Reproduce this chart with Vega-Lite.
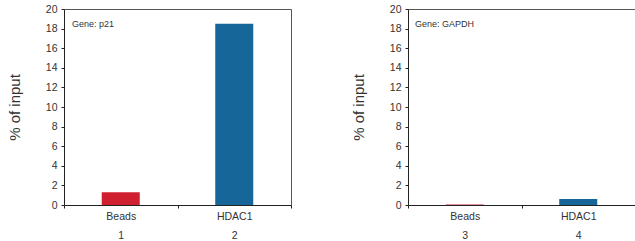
{
  "$schema": "https://vega.github.io/schema/vega-lite/v6.json",
  "padding": {"left": 6, "top": 3, "right": 2, "bottom": 2},
  "background": "white",
  "datasets": {
    "p21": [
      {"lane": "1", "sample": "Beads", "pct": 1.3, "gene": "Gene: p21"},
      {"lane": "2", "sample": "HDAC1", "pct": 18.5, "gene": "Gene: p21"}
    ],
    "gapdh": [
      {"lane": "3", "sample": "Beads", "pct": 0.05, "gene": "Gene: GAPDH"},
      {"lane": "4", "sample": "HDAC1", "pct": 0.6, "gene": "Gene: GAPDH"}
    ]
  },
  "spacing": 58,
  "resolve": {"scale": {"x": "independent", "y": "independent"}},
  "hconcat": [
    {
      "width": 227,
      "height": 196,
      "data": {"name": "p21"},
      "encoding": {
        "x": {"field": "lane", "type": "nominal", "sort": null,
              "scale": {"paddingInner": 0, "paddingOuter": 0},
              "axis": {"title": null, "labelExpr": "indexof(['1','2','3','4'], datum.value) < 0 ? '' : [datum.value == '1' || datum.value == '3' ? 'Beads' : 'HDAC1', datum.value]"}}
      },
      "layer": [
        {
          "mark": {"type": "bar", "width": {"band": 0.335}},
          "encoding": {
            "y": {"field": "pct", "type": "quantitative", "scale": {"domain": [0, 20]},
                  "axis": {"title": "% of input", "values": [0, 2, 4, 6, 8, 10, 12, 14, 16, 18, 20]}},
            "color": {"field": "sample", "type": "nominal", "legend": null,
                      "scale": {"domain": ["Beads", "HDAC1"], "range": ["#d0202f", "#17669a"]}}
          }
        },
        {
          "transform": [{"filter": "datum.lane == '1'"}],
          "mark": {"type": "text", "align": "left", "baseline": "middle", "dx": 8, "fontSize": 9, "color": "#333"},
          "encoding": {
            "x": {"field": "lane", "type": "nominal", "bandPosition": 0},
            "y": {"datum": 18.5, "type": "quantitative", "axis": {"title": "% of input", "values": [0, 2, 4, 6, 8, 10, 12, 14, 16, 18, 20]}},
            "text": {"field": "gene"}
          }
        }
      ]
    },
    {
      "width": 227,
      "height": 196,
      "data": {"name": "gapdh"},
      "encoding": {
        "x": {"field": "lane", "type": "nominal", "sort": null,
              "scale": {"paddingInner": 0, "paddingOuter": 0},
              "axis": {"title": null, "labelExpr": "indexof(['1','2','3','4'], datum.value) < 0 ? '' : [datum.value == '1' || datum.value == '3' ? 'Beads' : 'HDAC1', datum.value]"}}
      },
      "layer": [
        {
          "mark": {"type": "bar", "width": {"band": 0.335}},
          "encoding": {
            "y": {"field": "pct", "type": "quantitative", "scale": {"domain": [0, 20]},
                  "axis": {"title": "% of input", "values": [0, 2, 4, 6, 8, 10, 12, 14, 16, 18, 20]}},
            "color": {"field": "sample", "type": "nominal", "legend": null,
                      "scale": {"domain": ["Beads", "HDAC1"], "range": ["#d0202f", "#17669a"]}}
          }
        },
        {
          "transform": [{"filter": "datum.lane == '3'"}],
          "mark": {"type": "text", "align": "left", "baseline": "middle", "dx": 7, "fontSize": 9, "color": "#333"},
          "encoding": {
            "x": {"field": "lane", "type": "nominal", "bandPosition": 0},
            "y": {"datum": 18.5, "type": "quantitative", "axis": {"title": "% of input", "values": [0, 2, 4, 6, 8, 10, 12, 14, 16, 18, 20]}},
            "text": {"field": "gene"}
          }
        }
      ]
    }
  ],
  "config": {
    "font": "Liberation Sans",
    "view": {"stroke": "#555", "strokeWidth": 1},
    "axis": {"grid": false, "domainColor": "#222", "tickColor": "#222", "labelColor": "#333", "titleColor": "#333", "labelFontSize": 10.5, "tickSize": 3},
    "axisX": {"labelAngle": 0, "tickBand": "extent", "labelPadding": 3, "labelLineHeight": 19, "labelBaseline": "top"},
    "axisY": {"labelPadding": 4, "titleFontSize": 15, "titleFontWeight": "normal", "titlePadding": 23}
  }
}
